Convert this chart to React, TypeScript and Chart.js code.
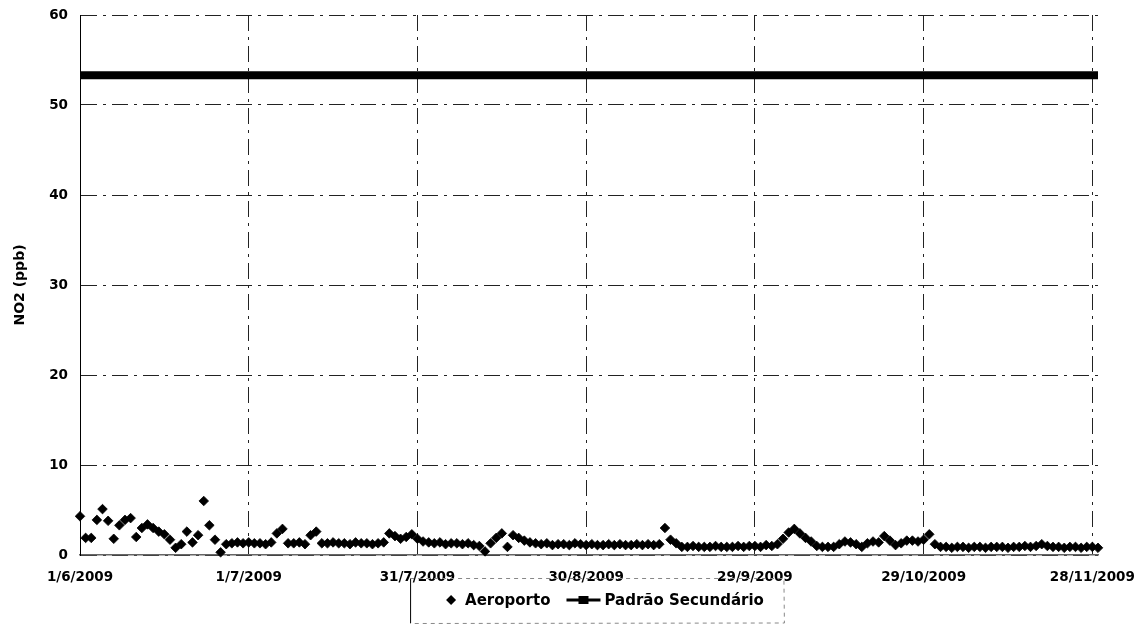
import React, { useEffect, useRef } from 'react';
import { Chart, registerables } from 'chart.js';

Chart.register(...registerables);

// Daily NO2 (ppb) at "Aeroporto", one value per day starting 1/6/2009
const aeroportoValues: number[] = [
  // 1/6 - 30/6
  4.3, 1.9, 1.9, 3.9, 5.1, 3.8, 1.8, 3.3, 3.9, 4.1,
  2.0, 3.0, 3.4, 3.0, 2.6, 2.3, 1.7, 0.8, 1.2, 2.6,
  1.4, 2.2, 6.0, 3.3, 1.7, 0.3, 1.2, 1.3, 1.4, 1.3,
  // 1/7 ...
  1.4,
  1.3, 1.3, 1.2, 1.4,
  2.4, 2.9, 1.3, 1.3, 1.4, 1.2, 2.2, 2.6, 1.3,
  1.3, 1.4, 1.3, 1.3, 1.2, 1.4, 1.3, 1.3, 1.2, 1.3, 1.4,
  2.4, 2.1, 1.8, 2.0, 2.3, 1.8, 1.5, 1.4,
  1.3, 1.4, 1.2, 1.3, 1.3, 1.2, 1.3, 1.1, 1.0,
  0.4, 1.3, 1.9, 2.4, 0.9, 2.2, 1.9, 1.6, 1.4,
  1.3, 1.2, 1.3, 1.1, 1.2, 1.2, 1.1, 1.3, 1.2, 1.1, 1.2, 1.1, 1.1, 1.2, 1.1, 1.2, 1.1, 1.1, 1.2, 1.1, 1.2, 1.1, 1.2,
  3.0, 1.7, 1.3,
  0.9, 0.9, 1.0, 0.9, 0.9, 0.9, 1.0, 0.9, 0.9, 0.9, 1.0, 0.9, 1.0, 1.0, 0.9, 1.1, 1.0,
  1.2, 1.8, 2.5, 2.9, 2.4, 1.9, 1.5, 1.0, 0.9, 0.9, 0.9, 1.2, 1.5, 1.4, 1.2, 0.9, 1.3, 1.5, 1.4, 2.1,
  1.6, 1.1, 1.3, 1.6, 1.6, 1.5, 1.7, 2.3, 1.2,
  0.9, 0.9, 0.8, 0.9, 0.9, 0.8, 0.9, 0.9, 0.8, 0.9, 0.9, 0.9, 0.8, 0.9, 0.9, 1.0, 0.9, 1.0, 1.2, 1.0,
  0.9, 0.9, 0.8, 0.9, 0.9, 0.8, 0.9, 0.9, 0.8,
];

const padraoSecundarioValue = 53.3;
const xMaxDay = 181;
const xTickDays: number[] = [0, 30, 60, 90, 120, 150, 180];
const xTickLabels: string[] = ['1/6/2009', '1/7/2009', '31/7/2009', '30/8/2009', '29/9/2009', '29/10/2009', '28/11/2009'];
const yTickValues: number[] = [0, 10, 20, 30, 40, 50, 60];
const seriesNames: string[] = ['Aeroporto', 'Padrão Secundário'];
const yAxisTitle = 'NO2 (ppb)';

const FONT = '"DejaVu Sans", Verdana, sans-serif';
const GRID_DASH = [16, 6, 3, 6];

const legendPlugin = {
  id: 'customLegend',
  afterDraw(chart: any) {
    const ctx = chart.ctx as CanvasRenderingContext2D;
    const area = chart.chartArea;
    ctx.save();
    ctx.font = `bold 15px ${FONT}`;
    ctx.textBaseline = 'middle';
    ctx.fillStyle = '#000';
    const t1 = seriesNames[0];
    const t2 = seriesNames[1];
    const w1 = ctx.measureText(t1).width;
    const w2 = ctx.measureText(t2).width;
    const total = 10 + 9 + w1 + 16 + 34 + 4 + w2;
    const cx = (area.left + area.right) / 2 + 16;
    const cy = area.bottom + 45;
    let x = cx - total / 2;
    const boxL = x - 36;
    const boxR = x + total + 20;
    const boxT = cy - 22;
    const boxB = cy + 23;
    // box
    ctx.strokeStyle = '#000';
    ctx.lineWidth = 1;
    ctx.beginPath();
    ctx.moveTo(boxL + 0.5, boxT);
    ctx.lineTo(boxL + 0.5, boxB);
    ctx.stroke();
    ctx.strokeStyle = '#888';
    ctx.setLineDash([4, 4]);
    ctx.beginPath();
    ctx.moveTo(boxL, boxT + 0.5);
    ctx.lineTo(boxR, boxT + 0.5);
    ctx.lineTo(boxR + 0.5, boxB);
    ctx.lineTo(boxL, boxB + 0.5);
    ctx.stroke();
    ctx.setLineDash([]);
    // diamond
    ctx.beginPath();
    ctx.moveTo(x + 5, cy - 5);
    ctx.lineTo(x + 10, cy);
    ctx.lineTo(x + 5, cy + 5);
    ctx.lineTo(x, cy);
    ctx.closePath();
    ctx.fill();
    x += 19;
    ctx.fillText(t1, x, cy + 1);
    x += w1 + 16;
    // line with square marker
    ctx.strokeStyle = '#000';
    ctx.lineWidth = 3;
    ctx.beginPath();
    ctx.moveTo(x, cy);
    ctx.lineTo(x + 34, cy);
    ctx.stroke();
    ctx.fillRect(x + 12, cy - 4, 10, 8);
    x += 38;
    ctx.fillText(t2, x, cy + 1);
    ctx.restore();
  },
};

export default function App() {
  const canvasRef = useRef<HTMLCanvasElement | null>(null);

  useEffect(() => {
    const canvas = canvasRef.current;
    if (!canvas) return;
    const chart = new Chart(canvas, {
      type: 'scatter',
      data: {
        datasets: [
          {
            label: seriesNames[1],
            data: [
              { x: 0, y: padraoSecundarioValue },
              { x: xMaxDay, y: padraoSecundarioValue },
            ],
            showLine: true,
            borderColor: '#000',
            backgroundColor: '#000',
            borderWidth: 8,
            pointRadius: 0,
            order: 2,
            clip: false as any,
          },
          {
            label: seriesNames[0],
            data: aeroportoValues.map((v, i) => ({ x: i, y: v })),
            showLine: false,
            pointStyle: 'rectRot',
            pointRadius: 4.8,
            pointBorderWidth: 0.8,
            borderColor: '#000',
            backgroundColor: '#000',
            order: 1,
            clip: 10 as any,
          },
        ],
      },
      options: {
        animation: false,
        responsive: false,
        devicePixelRatio: 1,
        layout: { padding: { left: 0, top: 15, right: 45, bottom: 0 } },
        plugins: {
          legend: { display: false },
          tooltip: { enabled: false },
        },
        scales: {
          x: {
            type: 'linear',
            min: 0,
            max: xMaxDay,
            afterBuildTicks: (scale: any) => {
              scale.ticks = xTickDays.map((v) => ({ value: v }));
            },
            afterFit: (scale: any) => {
              scale.height = 81;
              scale.paddingLeft = 0;
              scale.paddingRight = 0;
            },
            ticks: {
              autoSkip: false,
              maxRotation: 0,
              padding: 14,
              color: '#000',
              font: { family: FONT, size: 13.5, weight: 'bold' },
              callback: (value: any) => {
                const idx = xTickDays.indexOf(Number(value));
                return idx >= 0 ? xTickLabels[idx] : '';
              },
            },
            grid: { color: '#222', lineWidth: 1, drawTicks: false },
            border: { display: true, color: '#666', width: 1.5, dash: GRID_DASH },
          },
          y: {
            type: 'linear',
            min: 0,
            max: 60,
            afterBuildTicks: (scale: any) => {
              scale.ticks = yTickValues.map((v) => ({ value: v }));
            },
            afterFit: (scale: any) => {
              scale.width = 80;
              scale.paddingTop = 0;
              scale.paddingBottom = 0;
            },
            ticks: {
              padding: 12,
              color: '#000',
              font: { family: FONT, size: 13.5, weight: 'bold' },
            },
            grid: { color: '#222', lineWidth: 1, drawTicks: false },
            border: { display: true, color: '#000', width: 1, dash: GRID_DASH },
            title: {
              display: true,
              text: yAxisTitle,
              color: '#000',
              font: { family: FONT, size: 14, weight: 'bold' },
              padding: { top: 12, bottom: 0 },
            },
          },
        },
      },
      plugins: [legendPlugin],
    });
    return () => chart.destroy();
  }, []);

  return (
    <div style={{ position: 'absolute', left: 0, top: 0, width: 1143, height: 636, background: '#fff' }}>
      <canvas ref={canvasRef} width={1143} height={636} style={{ display: 'block', width: 1143, height: 636 }} />
    </div>
  );
}
